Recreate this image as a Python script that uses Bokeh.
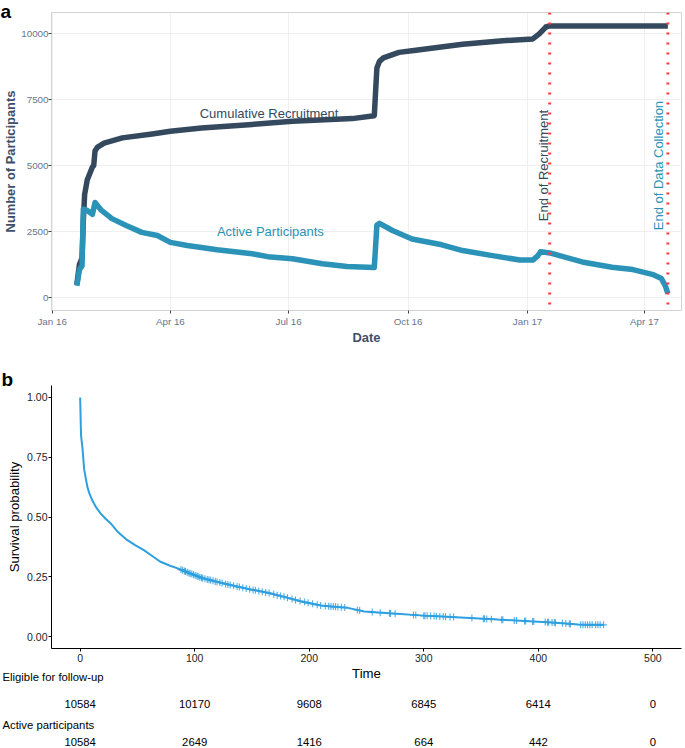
import numpy as np
import pandas as pd
from bokeh.plotting import figure
from bokeh.models import (Range1d, FixedTicker, DatetimeTickFormatter, Span, Title,
                          LinearAxis, NumeralTickFormatter)
from bokeh.layouts import column
from bokeh.core.properties import value
from bokeh.embed import file_html
from bokeh.resources import INLINE

FONT = "Liberation Sans"

# ---------------- Panel a data ----------------
cum_dates = ["2016-01-20", "2016-01-22", "2016-01-24", "2016-01-25", "2016-01-26", "2016-01-28",
             "2016-02-01", "2016-02-02", "2016-02-03", "2016-02-05", "2016-02-10", "2016-02-24",
             "2016-03-18", "2016-04-01", "2016-04-25", "2016-06-03", "2016-07-04", "2016-08-19",
             "2016-09-05", "2016-09-06", "2016-09-07", "2016-09-09", "2016-09-12", "2016-09-24",
             "2016-10-04", "2016-11-12", "2016-12-13", "2017-01-05", "2017-01-10", "2017-01-15",
             "2017-01-18", "2017-04-19"]
cum_values = [500, 1250, 1500, 2900, 3900, 4450,
              4950, 5000, 5550, 5700, 5850, 6050,
              6200, 6300, 6420, 6560, 6680, 6780,
              6890, 7800, 8700, 8950, 9080, 9290,
              9350, 9600, 9730, 9800, 9990, 10250,
              10290, 10290]

act_dates = ["2016-01-20", "2016-01-22", "2016-01-24", "2016-01-25", "2016-01-28", "2016-02-01",
             "2016-02-03", "2016-02-08", "2016-02-16", "2016-02-27", "2016-03-10", "2016-03-22",
             "2016-04-01", "2016-04-14", "2016-05-07", "2016-06-03", "2016-06-15", "2016-07-04",
             "2016-07-27", "2016-08-15", "2016-09-05", "2016-09-07", "2016-09-09", "2016-09-19",
             "2016-10-04", "2016-10-27", "2016-11-12", "2016-12-05", "2016-12-26", "2017-01-05",
             "2017-01-09", "2017-01-11", "2017-01-18", "2017-02-12", "2017-03-07", "2017-03-23",
             "2017-04-07", "2017-04-14", "2017-04-17", "2017-04-19"]
act_values = [450, 1050, 1200, 3350, 3300, 3150,
              3600, 3300, 2990, 2730, 2470, 2350,
              2090, 1970, 1810, 1660, 1550, 1470,
              1280, 1180, 1140, 2750, 2810, 2540,
              2220, 2000, 1780, 1590, 1420, 1420,
              1590, 1740, 1690, 1350, 1150, 1060,
              880, 720, 450, 150]

recruit_end = "2017-01-18"
collection_end = "2017-04-19"
date_ticks = ["2016-01-01", "2016-04-01", "2016-07-01", "2016-10-01", "2017-01-01", "2017-04-01"]
count_ticks = [0, 2500, 5000, 7500, 10000]

# ---------------- Panel b data ----------------
surv_time = [0, 0.8, 2, 3.5, 5, 6.3, 8, 10.6, 14, 17.8, 22, 26.5, 33, 40.9, 48, 55.3, 62, 69.7,
             78, 87, 97, 107, 120, 136, 150, 164.7, 178, 193, 210, 219, 233.7, 248, 270, 300,
             320, 340, 365, 392, 415, 435, 445, 457]
surv_prob = [1.0, 0.84, 0.79, 0.70, 0.66, 0.626, 0.60, 0.57, 0.54, 0.515, 0.494, 0.474, 0.437,
             0.404, 0.382, 0.3625, 0.34, 0.314, 0.297, 0.282, 0.262, 0.244, 0.228, 0.21, 0.196,
             0.182, 0.166, 0.147, 0.13, 0.126, 0.12, 0.105, 0.097, 0.0875, 0.083, 0.078, 0.071,
             0.064, 0.058, 0.05, 0.049, 0.049]
censor_time = [88, 89.5, 91, 92, 93.5, 95, 96, 97.5, 99, 100.5, 102, 103, 104.5, 106, 107, 109,
               111, 112.5, 114, 116, 118, 119.5, 122, 124, 127, 129, 131, 134, 137, 139, 142,
               145, 148, 151, 153, 156, 159, 162, 165, 169, 172, 175, 178, 181, 185, 188, 192,
               196, 199, 203, 207, 210, 214, 217, 219, 221, 223, 225, 228, 231, 242, 244, 255,
               262, 270, 271, 275, 291, 293, 300, 301, 303, 306, 309, 311, 314, 317, 319, 323,
               326, 342, 352, 353, 355, 359, 368, 369, 379, 381, 388, 389, 395, 396, 406, 408,
               409, 412, 414, 415, 421, 424, 427, 428, 437, 439, 441, 443, 445, 447, 450, 452,
               454, 457]
time_ticks = [0, 100, 200, 300, 400, 500]
prob_ticks = [0, 0.25, 0.5, 0.75, 1.0]
risk_rows = ["Eligible for follow-up", "Active participants"]
eligible = [10584, 10170, 9608, 6845, 6414, 0]
active = [10584, 2649, 1416, 664, 442, 0]

# ---------------- styles ----------------
DARK = "#34495e"
BLUE = "#2b93b8"
RED = "#ff3d3d"
TICKCOL = "#66758f"
SURV = "#2E9FDF"

W = 685
FL = 50          # expected (aligned) frame left edge of both panels


def ms(d):
    return pd.Timestamp(d).value / 1e6


# ---------------- Panel a ----------------
pa = figure(width=W, height=352, x_axis_type="datetime",
            x_range=Range1d(pd.Timestamp("2015-12-31 12:00"), pd.Timestamp("2017-04-29 12:00")),
            y_range=Range1d(-490, 10800),
            output_backend="svg", toolbar_location=None,
            min_border_left=47, min_border_right=4, min_border_top=12, min_border_bottom=42)
pa.outline_line_color = "#d4d4d4"
pa.outline_line_width = 1
pa.grid.grid_line_color = "#efefef"
pa.xaxis.ticker = FixedTicker(ticks=[ms(d) for d in date_ticks])
pa.xaxis.formatter = DatetimeTickFormatter(days="%b %y", months="%b %y", years="%b %y")
pa.yaxis.ticker = FixedTicker(ticks=count_ticks)
pa.yaxis.formatter = NumeralTickFormatter(format="0")
for ax in pa.axis:
    ax.axis_line_color = None
    ax.major_tick_line_color = "#444444"
    ax.major_tick_out = 3
    ax.major_tick_in = 0
    ax.minor_tick_line_color = None
    ax.major_label_text_font = FONT
    ax.major_label_text_font_size = "9.8px"
    ax.major_label_text_color = TICKCOL
    ax.major_label_standoff = 2
    ax.axis_label_text_font = FONT
    ax.axis_label_text_font_size = "12.9px"
    ax.axis_label_text_font_style = "bold"
    ax.axis_label_text_color = "#3d4f6b"
pa.xaxis.axis_label = "Date"
pa.xaxis.axis_label_standoff = 0
pa.yaxis.axis_label = "Number of Participants"
pa.yaxis.axis_label_standoff = 0
pa.yaxis.major_label_standoff = 0

pa.line(pd.to_datetime(cum_dates), cum_values, line_color=DARK, line_width=5.5, line_join="round")
pa.line(pd.to_datetime(act_dates), act_values, line_color=BLUE, line_width=5.5, line_join="round")

for d in (recruit_end, collection_end):
    pa.add_layout(Span(location=ms(d), dimension="height", line_color=RED,
                       line_width=3, line_dash="2 8"))

pa.text(x=[pd.Timestamp("2016-06-16")], y=[6970], text=["Cumulative Recruitment"],
        text_font=value(FONT), text_font_size="13px", text_color=DARK,
        text_align="center", text_baseline="middle")
pa.text(x=[pd.Timestamp("2016-06-17")], y=[2500], text=["Active Participants"],
        text_font=value(FONT), text_font_size="13px", text_color=BLUE,
        text_align="center", text_baseline="middle")
pa.text(x=[pd.Timestamp(recruit_end) - pd.Timedelta(days=5)], y=[5000], text=["End of Recruitment"],
        angle=np.pi / 2, text_font=value(FONT), text_font_size="13px", text_color=DARK,
        text_align="center", text_baseline="middle")
pa.text(x=[pd.Timestamp(collection_end) - pd.Timedelta(days=7)], y=[5000],
        text=["End of Data Collection"], angle=np.pi / 2, text_font=value(FONT),
        text_font_size="13px", text_color=BLUE, text_align="center", text_baseline="middle")

pa.add_layout(Title(text="a", align="left", offset=-1 - FL, vertical_align="bottom", standoff=-18,
                    text_font=FONT, text_font_size="19px", text_font_style="bold",
                    text_color="black"), "above")

# ---------------- Panel b (with risk table below) ----------------
pb = figure(width=W, height=396, x_range=Range1d(-25, 525), y_range=Range1d(-0.05, 1.05),
            output_backend="svg", toolbar_location=None,
            min_border_left=46, min_border_right=4, min_border_top=33, min_border_bottom=100)
pb.outline_line_color = None
pb.grid.grid_line_color = None
pb.xaxis.ticker = FixedTicker(ticks=time_ticks)
pb.yaxis.ticker = FixedTicker(ticks=prob_ticks)
pb.yaxis.formatter = NumeralTickFormatter(format="0.00")
for ax in pb.axis:
    ax.axis_line_color = "black"
    ax.axis_line_width = 1
    ax.major_tick_line_color = "black"
    ax.major_tick_out = 3
    ax.major_tick_in = 0
    ax.minor_tick_line_color = None
    ax.major_label_text_font = FONT
    ax.major_label_text_font_size = "10.5px"
    ax.major_label_text_color = "#222222"
    ax.major_label_standoff = 2
    ax.axis_label_text_font = FONT
    ax.axis_label_text_font_size = "13.2px"
    ax.axis_label_text_font_style = "normal"
    ax.axis_label_text_color = "black"
pb.yaxis.axis_label = "Survival probability"
pb.yaxis.axis_label_standoff = 2
pb.yaxis.major_label_standoff = 1
pb.xaxis.axis_label = "Time"
pb.xaxis.axis_label_standoff = 1

pb.line(surv_time, surv_prob, line_color=SURV, line_width=2)
censor_prob = np.interp(censor_time, surv_time, surv_prob)
pb.scatter(censor_time, censor_prob, marker="cross", size=7, line_color=SURV,
           line_width=1.1, line_alpha=0.85)

pb.add_layout(Title(text="b", align="left", offset=0 - FL, vertical_align="top", standoff=-12,
                    text_font=FONT, text_font_size="19px", text_font_style="bold",
                    text_color="black"), "above")


def row_title(text, valign, standoff):
    return Title(text=text, align="left", offset=1 - FL, vertical_align=valign,
                 standoff=standoff, text_font=FONT, text_font_size="11.3px",
                 text_font_style="normal", text_color="black")


def row_axis(vals, standoff):
    ax = LinearAxis(ticker=FixedTicker(ticks=time_ticks),
                    major_label_overrides={t: str(v) for t, v in zip(time_ticks, vals)})
    ax.axis_line_color = None
    ax.major_tick_line_color = None
    ax.minor_tick_line_color = None
    ax.major_tick_out = 0
    ax.major_tick_in = 0
    ax.major_label_standoff = standoff
    ax.major_label_text_font = FONT
    ax.major_label_text_font_size = "11.3px"
    ax.major_label_text_color = "black"
    return ax


pb.add_layout(row_title(risk_rows[0], "top", -26), "below")
pb.add_layout(row_axis(eligible, 16), "below")
pb.add_layout(row_title(risk_rows[1], "bottom", 13), "below")
pb.add_layout(row_axis(active, 0), "below")

layout = column(pa, pb, spacing=0)
open("out.html", "w").write(file_html(layout, INLINE))
